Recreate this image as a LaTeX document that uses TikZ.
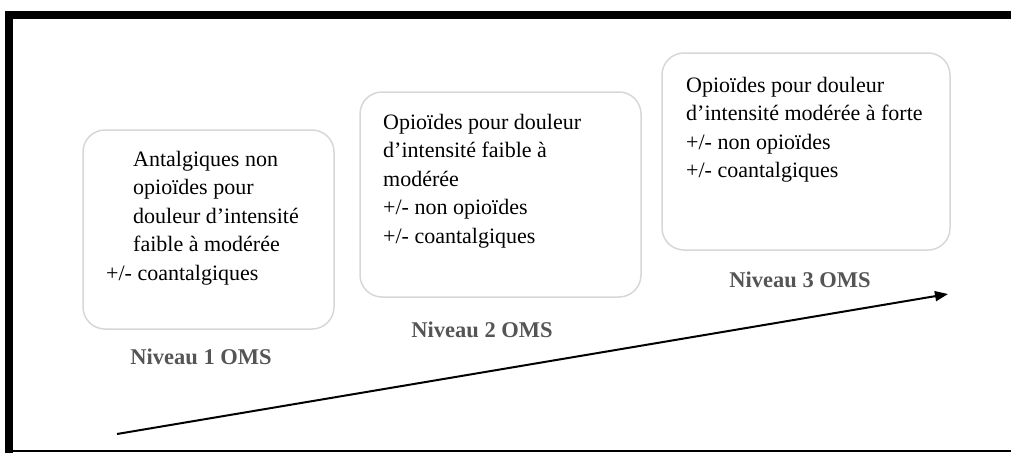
\documentclass[tikz,border=0pt]{standalone}
\usepackage{fontspec}
\setmainfont{Liberation Serif}
\usetikzlibrary{arrows.meta}
\definecolor{boxgray}{RGB}{215,215,215}
\definecolor{labelgray}{RGB}{85,85,85}
\tikzset{
    palier/.style={draw=boxgray, line width=1.5pt, rounded corners=22pt},
    boxtext/.style={anchor=north west, inner sep=0pt, align=left,
        font=\fontsize{22}{28.5}\selectfont},
    niveau/.style={text=labelgray, inner sep=0pt,
        font=\fontsize{22.5}{25}\selectfont\bfseries}
}
\begin{document}
\begin{tikzpicture}[x=1pt, y=-1pt]
        \useasboundingbox (0,0) rectangle (1011,453);
        % cadre
        \fill (5,11) rectangle (1011,19);
        \fill (5,11) rectangle (13,453);
        \draw[line width=1.5pt] (5,451) -- (1011,451);
        % paliers
        \draw[palier] (83,130) rectangle (334,329);
        \draw[palier] (360,92) rectangle (641,297);
        \draw[palier] (662,53) rectangle (950,250);
        \node[boxtext] (txt1) at (106,151) {\hspace*{27pt}Antalgiques non\\
            \hspace*{27pt}opioïdes pour\\
            \hspace*{27pt}douleur d’intensité\\
            \hspace*{27pt}faible à modérée\\
            +/- coantalgiques};
        \node[boxtext] (txt2) at (383,114) {Opioïdes pour douleur\\
            d’intensité faible à\\
            modérée\\
            +/- non opioïdes\\
            +/- coantalgiques};
        \node[boxtext] (txt3) at (686,77) {Opioïdes pour douleur\\
            d’intensité modérée à forte\\
            +/- non opioïdes\\
            +/- coantalgiques};
        \node[niveau] (niv1) at (201,357) {Niveau 1 OMS};
        \node[niveau] (niv2) at (482,330) {Niveau 2 OMS};
        \node[niveau] (niv3) at (800,280) {Niveau 3 OMS};
        % progression
        \coordinate (debut) at (117,434);
        \coordinate (fin) at (948,294);
        \draw[line width=2pt, -{Triangle[length=13pt, width=10pt]}] (debut) -- (fin);
    \end{tikzpicture}
\end{document}
